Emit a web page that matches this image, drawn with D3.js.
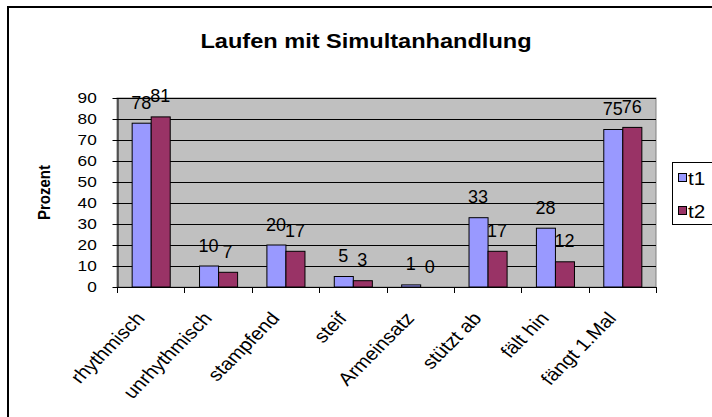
<!DOCTYPE html>
<html>
<head>
<meta charset="utf-8">
<script src="https://cdn.jsdelivr.net/npm/d3@7"></script>
<style>
  html, body { margin: 0; padding: 0; background: #fff; }
  svg { display: block; font-family: "Liberation Sans", Arial, sans-serif; }
</style>
</head>
<body>
<svg id="chart" width="712" height="417"></svg>
<script>
const title = "Laufen mit Simultanhandlung";
const yTitle = "Prozent";
const categories = ["rhythmisch", "unrhythmisch", "stampfend", "steif", "Armeinsatz", "stützt ab", "fält hin", "fängt 1.Mal"];
const seriesNames = ["t1", "t2"];
const t1Values = [78, 10, 20, 5, 1, 33, 28, 75];
const t2Values = [81, 7, 17, 3, 0, 17, 12, 76];
const yTicks = [0, 10, 20, 30, 40, 50, 60, 70, 80, 90];
const colors = ["#9999FF", "#993366"];

const svg = d3.select("#chart");
const plot = { left: 117, right: 656, top: 98, bottom: 287 };
const SX = 1.15; // horizontal stretch of the reference text

// outer border
svg.append("rect").attr("x", 8).attr("y", 7).attr("width", 740).attr("height", 440)
  .attr("fill", "#fff").attr("stroke", "#000").attr("stroke-width", 2);

// title
svg.append("text").attr("transform", `translate(366,48) scale(${SX},1)`).attr("text-anchor", "middle")
  .attr("font-size", 20.5).attr("font-weight", "bold").text(title);

const x0 = d3.scaleBand().domain(categories).range([plot.left, plot.right]).padding(0);
const x1 = d3.scaleBand().domain(seriesNames).range([0, x0.bandwidth()]).paddingInner(0).paddingOuter(0.77);
const y = d3.scaleLinear().domain([0, 90]).range([plot.bottom, plot.top]);

// plot background
svg.append("rect").attr("x", plot.left).attr("y", plot.top)
  .attr("width", plot.right - plot.left).attr("height", plot.bottom - plot.top)
  .attr("fill", "#C0C0C0").attr("stroke", "#808080").attr("stroke-width", 1);

// gridlines
svg.append("g").selectAll("line").data(yTicks.filter(d => d > 0)).join("line")
  .attr("x1", plot.left).attr("x2", plot.right)
  .attr("y1", d => Math.round(y(d)) + 0.5).attr("y2", d => Math.round(y(d)) + 0.5)
  .attr("stroke", "#000").attr("stroke-width", 1);

// bars
const data = categories.map((c, i) => ({ cat: c, vals: [t1Values[i], t2Values[i]] }));
const groups = svg.append("g").selectAll("g").data(data).join("g")
  .attr("transform", d => `translate(${x0(d.cat)},0)`);
groups.selectAll("rect").data(d => d.vals.map((v, j) => ({ s: seriesNames[j], v, j })))
  .join("rect")
  .filter(d => d.v > 0)
  .attr("x", d => x1(d.s) + 0.5)
  .attr("y", d => y(d.v))
  .attr("width", x1.bandwidth())
  .attr("height", d => y(0) - y(d.v))
  .attr("fill", d => colors[d.j])
  .attr("stroke", "#000").attr("stroke-width", 1);

// data labels
groups.selectAll("text").data(d => d.vals.map((v, j) => ({ s: seriesNames[j], v, j })))
  .join("text")
  .attr("x", d => x1(d.s) + x1.bandwidth() / 2)
  .attr("y", d => y(d.v) - 14.5)
  .attr("text-anchor", "middle").attr("font-size", 18).attr("fill", "#000")
  .text(d => d.v);

// y axis
const yAxis = svg.append("g").attr("transform", `translate(${plot.left + 0.5},0)`)
  .call(d3.axisLeft(y).tickValues(yTicks).tickSize(5).tickPadding(13).tickSizeOuter(0));
yAxis.select(".domain").attr("stroke", "#000");
yAxis.selectAll(".tick line").attr("stroke", "#000");
yAxis.selectAll("text").attr("font-size", 15).attr("font-family", "Liberation Sans, Arial, sans-serif")
  .attr("fill", "#000").attr("transform", `scale(${SX},1)`);

// x axis
svg.append("line").attr("x1", plot.left).attr("x2", plot.right)
  .attr("y1", plot.bottom + 0.5).attr("y2", plot.bottom + 0.5).attr("stroke", "#000");
const boundaries = categories.map(c => x0(c)).concat([x0.range()[1]]);
svg.append("g").selectAll("line").data(boundaries).join("line")
  .attr("x1", d => Math.round(d) + 0.5).attr("x2", d => Math.round(d) + 0.5)
  .attr("y1", plot.bottom).attr("y2", plot.bottom + 6).attr("stroke", "#000");

// category labels
svg.append("g").selectAll("text").data(categories).join("text")
  .attr("transform", d => `translate(${x0(d) + x0.bandwidth() / 2 - 5},319) scale(${SX},1) rotate(-49)`)
  .attr("text-anchor", "end").attr("font-size", 18).attr("fill", "#000")
  .text(d => d);

// y title
svg.append("text").attr("transform", `translate(50,${(plot.top + plot.bottom) / 2}) scale(${SX},1) rotate(-90)`)
  .attr("text-anchor", "middle").attr("font-size", 15).attr("font-weight", "bold").text(yTitle);

// legend
const lg = svg.append("g");
lg.append("rect").attr("x", 672.5).attr("y", 162.5).attr("width", 60).attr("height", 62)
  .attr("fill", "#fff").attr("stroke", "#000");
seriesNames.forEach((s, i) => {
  const cy = 178 + i * 33;
  lg.append("rect").attr("x", 678.5).attr("y", cy - 4.5).attr("width", 8).attr("height", 8)
    .attr("fill", colors[i]).attr("stroke", "#000");
  lg.append("text").attr("transform", `translate(688,${cy + 6.5}) scale(${SX},1)`)
    .attr("font-size", 18).text(s);
});
</script>
</body>
</html>
